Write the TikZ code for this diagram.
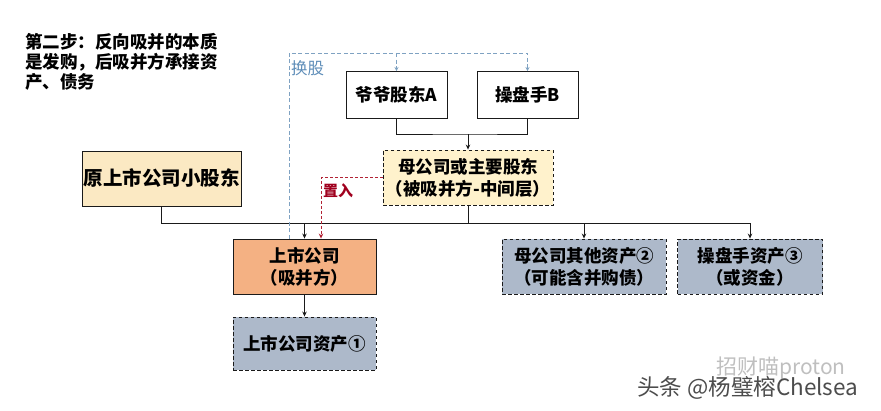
\documentclass[tikz,border=0pt]{standalone}
\usepackage{fontspec}
\setmainfont{Noto Sans CJK SC}
\usepackage{tikz}
\usetikzlibrary{arrows.meta,positioning}
\definecolor{MgrInk}{HTML}{1A1A1A}
\definecolor{MgrTan}{HTML}{FBE9C3}
\definecolor{MgrCream}{HTML}{FFF2CC}
\definecolor{MgrOrange}{HTML}{F4B183}
\definecolor{MgrSlate}{HTML}{ADB9CA}
\definecolor{MgrSwap}{HTML}{7FA2C2}
\definecolor{MgrSwapText}{HTML}{5E8DB8}
\definecolor{MgrPut}{HTML}{B22234}
\definecolor{MgrPutText}{HTML}{A0001E}

\begin{document}
\begin{tikzpicture}[x=1pt,y=-1pt]
    \tikzset{
      box/.style={draw=MgrInk, line width=.9pt, inner sep=0pt, align=center,
        minimum width=101pt, minimum height=47pt,
        font=\bfseries\fontsize{17.5}{22}\selectfont},
      hold/.style={box, dashed, dash pattern=on 3.5pt off 2.5pt, fill=MgrCream,
        minimum width=170pt, minimum height=55pt},
      minor/.style={box, fill=MgrTan, minimum width=159pt, minimum height=55pt,
        font=\bfseries\fontsize{19.5}{22}\selectfont},
      listed/.style={box, fill=MgrOrange, minimum width=143pt, minimum height=55pt},
      asset/.style={box, dashed, dash pattern=on 3.5pt off 2.5pt, fill=MgrSlate,
        minimum height=55pt},
      link/.style={draw=MgrInk, line width=.8pt},
      arr/.style={link, -{Stealth[length=5pt,width=4.5pt]}},
      swap/.style={draw=MgrSwap, line width=.8pt, dash pattern=on 4pt off 2.5pt},
      place/.style={draw=MgrPut, line width=.8pt, dash pattern=on 3pt off 2pt,
        -{Stealth[length=5pt,width=4.5pt]}}
    }
    \useasboundingbox (0,0) rectangle (881,410);
    % title
    \node[anchor=north west,align=left,inner sep=0pt,
      font=\bfseries\fontsize{17.5}{20}\selectfont] (title) at (25,33)
      {第二步：反向吸并的本质\\是发购，后吸并方承接资\\产、债务};
    % boxes
    \node[box] (grand) at (396.5,95) {爷爷股东A};
    \node[box] (trader) at (527.5,95) {操盘手B};
    \node[hold] (parent) at (468,177.5) {母公司或主要股东\\（被吸并方-中间层）};
    \node[minor] (minor) at (161.5,178.5) {原上市公司小股东};
    \node[listed] (listco) at (304.5,266.5) {上市公司\\（吸并方）};
    \node[asset,minimum width=143pt,minimum height=53pt] (lassets) at (304.5,343.5)
      {上市公司资产①};
    \node[asset,minimum width=164pt] (passets) at (584,266.5)
      {母公司其他资产②\\（可能含并购债）};
    \node[asset,minimum width=145pt] (tassets) at (750,266.5)
      {操盘手资产③\\（或资金）};
    % connectors
    \coordinate (join) at (468,134);
    \draw[link] (grand.south) |- (join) -| (trader.south);
    \draw[arr] (join) -- (parent.north);
    \coordinate (bus) at (0,223);
    \draw[link] (minor.south) |- (bus -| tassets.north);
    \draw[link] (parent.south) -- (parent.south |- bus);
    \foreach \n in {listco,passets,tassets}
      \draw[arr] (\n.north |- bus) -- (\n.north);
    \draw[arr] (listco.south) -- (lassets.north);
    % share swap
    \coordinate (swapc) at (289,53);
    \draw[swap,-{Stealth[length=4pt,width=4pt]}] (listco.north -| swapc) -- (swapc) -| (trader.north);
    \draw[swap,-{Stealth[length=4pt,width=4pt]}] (grand.north |- swapc) -- (grand.north);
    \node[font=\fontsize{16.5}{18}\selectfont,text=MgrSwapText,anchor=west,inner sep=0pt]
      (swaplbl) at (291,68) {换股};
    % asset injection
    \coordinate (putc) at (321,178);
    \draw[place] (parent.west) -| (putc |- listco.north);
    \node[font=\bfseries\fontsize{15}{17}\selectfont,text=MgrPutText,anchor=west,inner sep=0pt]
      (putlbl) at (323,191) {置入};
    % watermark
    \node[font=\fontsize{21}{24}\selectfont,text=black!25,anchor=west,inner sep=0pt]
      (wm1) at (716,368) {招财喵proton};
    \node[font=\fontsize{22.5}{24}\selectfont,text=black!70,anchor=west,inner sep=0pt]
      (wm2) at (637,388) {头条 @杨璧榕Chelsea};
  \end{tikzpicture}
\end{document}
